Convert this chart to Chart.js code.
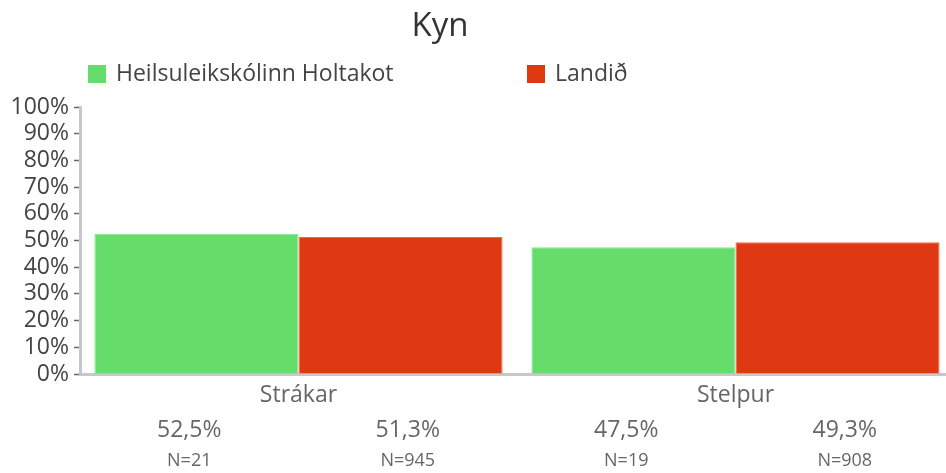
<!DOCTYPE html>
<html>
<head>
<meta charset="utf-8">
<script src="https://cdn.jsdelivr.net/npm/chart.js@4.4.1/dist/chart.umd.min.js"></script>
<style>
  html, body { margin: 0; padding: 0; background: #fff; }
  #wrap { width: 946px; height: 473px; position: relative; overflow: hidden; }
</style>
</head>
<body>
<div id="wrap"><canvas id="chart" width="960" height="473"></canvas></div>
<script>
// data
const categories = ['Strákar', 'Stelpur'];
const seriesNames = ['Heilsuleikskólinn Holtakot', 'Landið'];
const holtakot = [52.5, 47.5];
const landid = [51.3, 49.3];
const holtakotN = [21, 19];
const landidN = [945, 908];
const yTicks = [0, 10, 20, 30, 40, 50, 60, 70, 80, 90, 100];

const FONT = '"Open Sans", Lato, sans-serif';
const colors = ['#66dc6a', '#df3913'];
const borders = ['#86e889', '#ee6a4a'];

const fmt = v => v.toFixed(1).replace('.', ',') + '%';

// title + legend drawn on top
const headerPlugin = {
    id: 'header',
    afterDraw(chart) {
        const ctx = chart.ctx;
        ctx.save();
        ctx.fillStyle = '#333';
        ctx.font = '33px ' + FONT;
        ctx.textAlign = 'center';
        ctx.textBaseline = 'middle';
        ctx.fillText('Kyn', 440, 27);

        const items = [{ x: 88 }, { x: 527 }];
        ctx.font = '23px ' + FONT;
        ctx.textAlign = 'left';
        items.forEach((it, i) => {
            ctx.fillStyle = colors[i];
            ctx.fillRect(it.x, 65, 18, 18);
            ctx.fillStyle = '#444';
            ctx.fillText(seriesNames[i], it.x + 28, 74);
        });
        ctx.restore();
    }
};

// values and N in columns under each category
const valuePlugin = {
    id: 'values',
    afterDraw(chart) {
        const ctx = chart.ctx;
        const xs = chart.scales.x;
        const w = (xs.right - xs.left) / categories.length;
        const nLists = [holtakotN, landidN];
        ctx.save();
        ctx.textAlign = 'center';
        ctx.textBaseline = 'middle';
        chart.data.datasets.forEach((ds, di) => {
            ds.data.forEach((v, i) => {
                const x = xs.getPixelForValue(i) + (di === 0 ? -w / 4 : w / 4);
                ctx.fillStyle = '#666';
                ctx.font = '23px ' + FONT;
                ctx.fillText(fmt(v), x, 430);
                ctx.font = '18px ' + FONT;
                ctx.fillText('N=' + nLists[di][i], x, 461);
            });
        });
        ctx.restore();
    }
};

new Chart(document.getElementById('chart'), {
    type: 'bar',
    data: {
        labels: categories,
        datasets: [
            { label: seriesNames[0], data: holtakot, backgroundColor: colors[0], borderColor: borders[0], borderWidth: 1 },
            { label: seriesNames[1], data: landid, backgroundColor: colors[1], borderColor: borders[1], borderWidth: 1 }
        ]
    },
    options: {
        responsive: false,
        animation: false,
        categoryPercentage: 0.934,
        barPercentage: 1,
        layout: { padding: { top: 107, right: 6, left: 0, bottom: 0 } },
        plugins: {
            legend: { display: false },
            title: { display: false },
            tooltip: { enabled: false }
        },
        scales: {
            x: {
                grid: { display: false },
                border: { color: '#c8c8c8', width: 3 },
                ticks: { color: '#666', font: { family: FONT, size: 23 }, padding: 0 },
                afterFit(scale) { scale.height = 99; }
            },
            y: {
                min: 0,
                max: 100,
                afterBuildTicks(scale) { scale.ticks = yTicks.map(v => ({ value: v })); },
                grid: { drawOnChartArea: false, tickLength: 6, color: '#666', tickWidth: 1.5 },
                border: { color: '#c8c8c8', width: 3 },
                ticks: {
                    color: '#444',
                    autoSkip: false,
                    font: { family: FONT, size: 23 },
                    padding: 5,
                    callback: v => v + '%'
                },
                afterFit(scale) { scale.width = 80; }
            }
        }
    },
    plugins: [headerPlugin, valuePlugin]
});
</script>
</body>
</html>
